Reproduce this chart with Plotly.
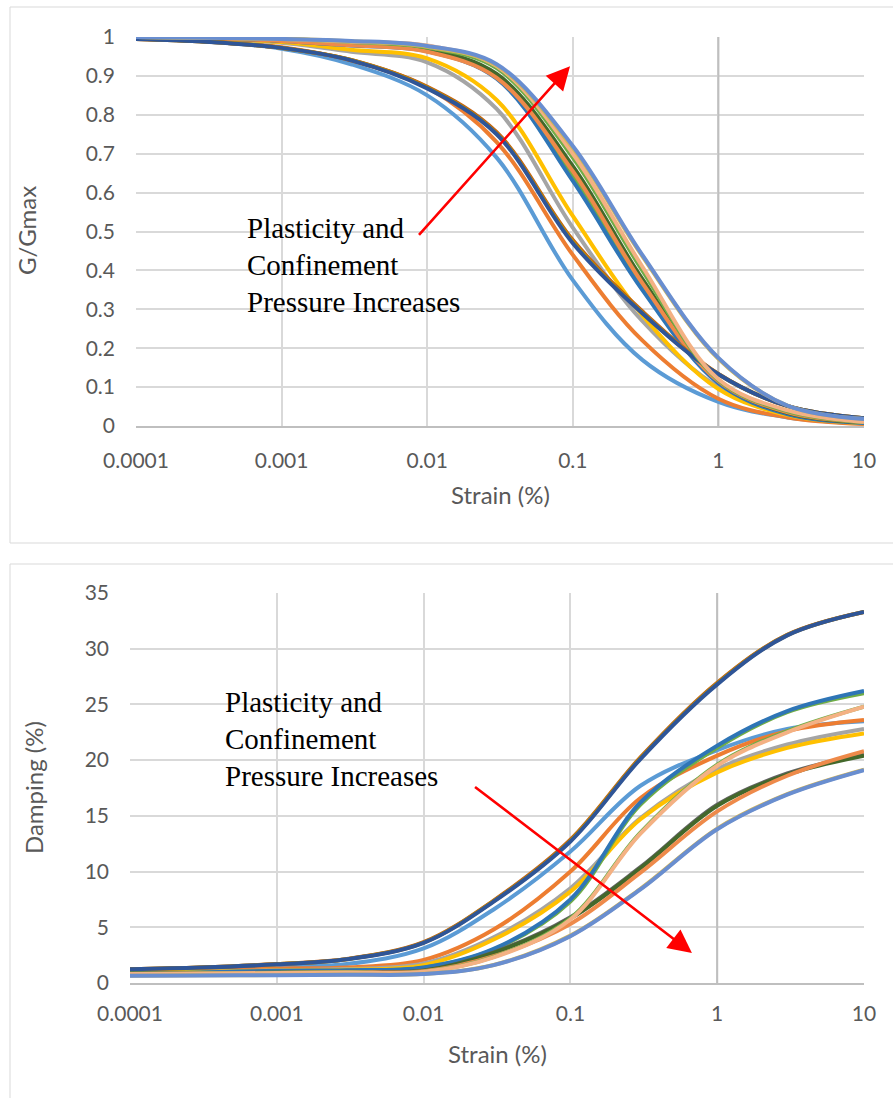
import plotly.graph_objects as go

# Shear strain (%) at which every curve is tabulated
strain = [0.0001, 0.0003, 0.001, 0.003, 0.01, 0.03, 0.1, 0.3, 1, 3, 10]

# Normalised shear modulus G/Gmax for each soil
g_light_blue = [0.995, 0.988, 0.970, 0.930, 0.850, 0.690, 0.375, 0.170, 0.062, 0.022, 0.007]
g_orange = [0.995, 0.990, 0.974, 0.940, 0.870, 0.730, 0.440, 0.220, 0.070, 0.022, 0.005]
g_gray = [0.998, 0.994, 0.985, 0.962, 0.935, 0.815, 0.510, 0.270, 0.100, 0.030, 0.008]
g_gold = [0.998, 0.995, 0.987, 0.967, 0.945, 0.838, 0.540, 0.285, 0.095, 0.028, 0.007]
g_green = [1.000, 0.997, 0.991, 0.980, 0.966, 0.900, 0.645, 0.360, 0.113, 0.032, 0.009]
g_blue = [1.000, 0.997, 0.990, 0.978, 0.963, 0.893, 0.630, 0.350, 0.110, 0.030, 0.008]
g_dark_gray = [1.000, 0.997, 0.991, 0.981, 0.967, 0.902, 0.660, 0.372, 0.116, 0.034, 0.010]
g_dark_green = [1.000, 0.997, 0.991, 0.981, 0.968, 0.905, 0.668, 0.378, 0.117, 0.034, 0.010]
g_sand = [1.000, 0.997, 0.990, 0.979, 0.962, 0.895, 0.655, 0.368, 0.115, 0.035, 0.010]
g_brown = [0.995, 0.988, 0.972, 0.941, 0.872, 0.755, 0.478, 0.295, 0.134, 0.051, 0.020]
g_dark_gold = [0.995, 0.988, 0.972, 0.941, 0.870, 0.752, 0.474, 0.292, 0.133, 0.051, 0.020]
g_navy = [0.995, 0.988, 0.972, 0.940, 0.868, 0.750, 0.470, 0.290, 0.133, 0.051, 0.020]
g_light_green = [1.000, 0.998, 0.995, 0.987, 0.973, 0.920, 0.690, 0.400, 0.118, 0.038, 0.010]
g_peach = [1.000, 0.998, 0.995, 0.988, 0.978, 0.925, 0.700, 0.410, 0.120, 0.040, 0.010]
g_pale_gold = [1.000, 0.998, 0.995, 0.989, 0.975, 0.927, 0.715, 0.437, 0.173, 0.052, 0.018]
g_steel = [1.000, 0.998, 0.995, 0.990, 0.977, 0.930, 0.720, 0.440, 0.175, 0.052, 0.018]

# Damping ratio (%) for each soil
d_light_blue = [1.10, 1.25, 1.47, 1.70, 3.10, 6.60, 11.8, 17.7, 20.9, 22.8, 23.5]
d_orange = [1.00, 1.10, 1.30, 1.40, 2.07, 4.80, 10.0, 16.6, 20.4, 22.6, 23.6]
d_gray = [0.95, 1.00, 1.15, 1.25, 1.75, 4.10, 8.50, 14.8, 19.2, 21.4, 22.8]
d_gold = [0.95, 1.00, 1.12, 1.20, 1.60, 3.90, 8.20, 14.7, 18.9, 21.1, 22.4]
d_green = [0.88, 0.93, 1.07, 1.12, 1.38, 3.00, 7.30, 16.0, 21.1, 24.3, 26.0]
d_blue = [0.90, 0.95, 1.10, 1.15, 1.40, 3.06, 7.50, 16.2, 21.3, 24.4, 26.2]
d_dark_gray = [0.86, 0.89, 0.93, 1.00, 1.12, 2.75, 5.90, 10.4, 16.0, 18.8, 20.5]
d_dark_green = [0.85, 0.88, 0.92, 0.98, 1.10, 2.70, 5.80, 10.3, 15.9, 18.7, 20.4]
d_sand = [0.80, 0.85, 0.90, 0.98, 1.05, 2.40, 5.30, 9.90, 15.4, 18.6, 20.8]
d_brown = [1.25, 1.40, 1.70, 2.16, 3.66, 7.40, 12.85, 20.25, 26.95, 31.25, 33.3]
d_dark_gold = [1.24, 1.39, 1.69, 2.14, 3.63, 7.35, 12.78, 20.18, 26.88, 31.22, 33.3]
d_navy = [1.23, 1.38, 1.68, 2.13, 3.60, 7.30, 12.7, 20.1, 26.8, 31.2, 33.3]
d_light_green = [0.82, 0.86, 0.91, 0.96, 1.02, 2.35, 5.80, 13.5, 19.6, 22.6, 24.8]
d_peach = [0.80, 0.85, 0.90, 0.95, 1.00, 2.30, 5.70, 13.4, 19.5, 22.5, 24.8]
d_pale_gold = [0.66, 0.69, 0.71, 0.76, 0.82, 1.62, 4.25, 8.45, 13.85, 16.95, 19.15]
d_steel = [0.65, 0.68, 0.70, 0.75, 0.80, 1.60, 4.20, 8.40, 13.8, 16.9, 19.1]

x_ticks = [0.0001, 0.001, 0.01, 0.1, 1, 10]
x_tick_text = ["0.0001", "0.001", "0.01", "0.1", "1", "10"]
g_ticks = [0, 0.1, 0.2, 0.3, 0.4, 0.5, 0.6, 0.7, 0.8, 0.9, 1]
g_tick_text = ["0", "0.1", "0.2", "0.3", "0.4", "0.5", "0.6", "0.7", "0.8", "0.9", "1"]
d_ticks = [0, 5, 10, 15, 20, 25, 30, 35]
d_tick_text = ["0", "5", "10", "15", "20", "25", "30", "35"]

soils = [
    ("#5B9BD5", g_light_blue, d_light_blue),
    ("#ED7D31", g_orange, d_orange),
    ("#A5A5A5", g_gray, d_gray),
    ("#FFC000", g_gold, d_gold),
    ("#70AD47", g_green, d_green),
    ("#2E75B6", g_blue, d_blue),
    ("#636363", g_dark_gray, d_dark_gray),
    ("#43682B", g_dark_green, d_dark_green),
    ("#EE8A4A", g_sand, d_sand),
    ("#C55A11", g_brown, d_brown),
    ("#BF9000", g_dark_gold, d_dark_gold),
    ("#2F5597", g_navy, d_navy),
    ("#70AD47", g_light_green, d_light_green),
    ("#F4B183", g_peach, d_peach),
    ("#D6B656", g_pale_gold, d_pale_gold),
    ("#698ED0", g_steel, d_steel),
]

W, H = 893, 1098
fig = go.Figure()

# Vertical value axis, which crosses the log strain axis at 1 %
for xa, ya, top in [("x", "y", 1), ("x2", "y2", 35)]:
    fig.add_trace(go.Scatter(x=[1, 1], y=[0, top], mode="lines",
                             line=dict(color="#BFBFBF", width=2),
                             xaxis=xa, yaxis=ya, showlegend=False,
                             hoverinfo="skip"))

for i, (color, g, d) in enumerate(soils):
    line = dict(color=color, width=4, shape="spline", smoothing=1)
    fig.add_trace(go.Scatter(x=strain, y=g, mode="lines", line=line,
                             xaxis="x", yaxis="y", showlegend=False,
                             name=f"Soil {i + 1}", hoverinfo="skip"))
    fig.add_trace(go.Scatter(x=strain, y=d, mode="lines", line=line,
                             xaxis="x2", yaxis="y2", showlegend=False,
                             name=f"Soil {i + 1}", hoverinfo="skip"))

tick_font = dict(family="Lato", size=21, color="#595959")
grid = dict(showgrid=True, gridcolor="#D9D9D9", gridwidth=2, zeroline=False,
            ticks="", tickfont=tick_font, automargin=False)

fig.update_layout(
    width=W, height=H,
    margin=dict(l=0, r=0, t=0, b=0, autoexpand=False),
    paper_bgcolor="white", plot_bgcolor="white",
    xaxis=dict(type="log", range=[-4, 1], domain=[136 / W, 864 / W], anchor="y",
               tickvals=x_ticks, ticktext=x_tick_text, showline=True,
               linecolor="#BFBFBF", linewidth=2, ticklabelstandoff=15, **grid),
    yaxis=dict(range=[0, 1], domain=[(H - 426) / H, (H - 37) / H], anchor="x",
               tickvals=g_ticks, ticktext=g_tick_text, showline=False,
               ticklabelstandoff=20, **grid),
    xaxis2=dict(type="log", range=[-4, 1], domain=[130 / W, 864 / W], anchor="y2",
                tickvals=x_ticks, ticktext=x_tick_text, showline=True,
                linecolor="#BFBFBF", linewidth=2, ticklabelstandoff=11, **grid),
    yaxis2=dict(range=[0, 35], domain=[(H - 983) / H, (H - 593) / H], anchor="x2",
                tickvals=d_ticks, ticktext=d_tick_text, showline=False,
                ticklabelstandoff=20, **grid),
)

# Chart-area frames
shapes = [
    dict(type="rect", xref="paper", yref="paper", x0=10 / W, x1=1.05,
         y0=(H - 543) / H, y1=(H - 7) / H, line=dict(color="#D9D9D9", width=1),
         layer="below"),
    dict(type="rect", xref="paper", yref="paper", x0=10 / W, x1=1.05,
         y0=-0.05, y1=(H - 564) / H, line=dict(color="#D9D9D9", width=1),
         layer="below"),
]
fig.update_layout(shapes=shapes)

title_font = dict(family="Lato", size=24, color="#595959")
note_font = dict(family="Liberation Serif", size=29, color="black")
annotations = [
    dict(text="Strain (%)", xref="paper", yref="paper", x=500 / W, y=(H - 495) / H,
         showarrow=False, font=title_font, xanchor="center", yanchor="middle"),
    dict(text="G/Gmax", xref="paper", yref="paper", x=26 / W, y=(H - 231) / H,
         showarrow=False, font=title_font, textangle=-90, xanchor="center",
         yanchor="middle"),
    dict(text="Strain (%)", xref="paper", yref="paper", x=497 / W, y=(H - 1053) / H,
         showarrow=False, font=title_font, xanchor="center", yanchor="middle"),
    dict(text="Damping (%)", xref="paper", yref="paper", x=33 / W, y=(H - 788) / H,
         showarrow=False, font=title_font, textangle=-90, xanchor="center",
         yanchor="middle"),
]

# Trend labels
for txt, yv in [("Plasticity and", 0.508), ("Confinement", 0.413),
                ("Pressure Increases", 0.319)]:
    annotations.append(dict(text=txt, xref="x", yref="y", x=-3.25, y=yv,
                            showarrow=False, font=note_font, xanchor="left",
                            yanchor="middle"))
for txt, yv in [("Plasticity and", 25.2), ("Confinement", 21.9),
                ("Pressure Increases", 18.6)]:
    annotations.append(dict(text=txt, xref="x2", yref="y2", x=-3.365, y=yv,
                            showarrow=False, font=note_font, xanchor="left",
                            yanchor="middle"))

# Trend arrows
annotations.append(dict(text=" ", xref="x", yref="y", axref="x", ayref="y",
                        x=-1.019, y=0.925, ax=-2.077, ay=0.483, showarrow=True,
                        arrowhead=2, arrowsize=1.8, arrowwidth=2.6, standoff=0,
                        startstandoff=0, arrowcolor="#FF0000"))
annotations.append(dict(text=" ", xref="x2", yref="y2", axref="x2", ayref="y2",
                        x=-0.172, y=2.7, ax=-1.670, ay=17.8, showarrow=True,
                        arrowhead=2, arrowsize=1.8, arrowwidth=2.6, standoff=0,
                        startstandoff=0, arrowcolor="#FF0000"))
fig.update_layout(annotations=annotations)

fig.write_html("out.html")
